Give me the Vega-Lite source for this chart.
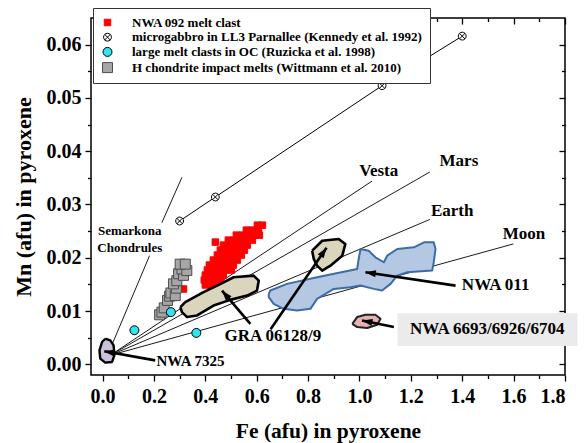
{
 "$schema": "https://vega.github.io/schema/vega-lite/v6.json",
 "width": 474, "height": 357,
 "autosize": {"type": "none"},
 "padding": {"left": 91, "top": 18, "right": 22, "bottom": 68},
 "background": "white",
 "config": {
  "view": {"stroke": "#000", "strokeWidth": 1.5},
  "axis": {"grid": false, "domain": false, "tickColor": "#000", "tickWidth": 1.3, "labelFont": "Liberation Serif", "labelFontWeight": "bold", "labelFontSize": 20, "labelColor": "#000", "titleFont": "Liberation Serif", "titleFontWeight": "bold", "titleFontSize": 22, "titleColor": "#000"},
  "legend": {"labelFont": "Liberation Serif", "labelFontWeight": "bold", "labelFontSize": 13, "labelColor": "#000", "labelLimit": 500, "padding": 8, "rowPadding": 0.7, "labelOffset": 18, "strokeColor": "#333", "fillColor": "#fff", "symbolStrokeWidth": 1}
 },
 "datasets": {
  "lines": [
   {"Fe": 0.03, "Mn": 0.0017, "Fe2": 1.049, "Mn2": 0.0344},
   {"Fe": 0.03, "Mn": 0.0017, "Fe2": 1.274, "Mn2": 0.0361},
   {"Fe": 0.03, "Mn": 0.0017, "Fe2": 1.274, "Mn2": 0.0272},
   {"Fe": 0.03, "Mn": 0.0017, "Fe2": 1.599, "Mn2": 0.0226},
   {"Fe": 0.309, "Mn": 0.0351, "Fe2": 0.231, "Mn2": 0.0266},
   {"Fe": 0.183, "Mn": 0.0204, "Fe2": 0.035, "Mn2": 0.0035}
  ],
  "pts": [
   {"series": "NWA 092 melt clast", "Fe": 0.315, "Mn": 0.01414},
   {"series": "NWA 092 melt clast", "Fe": 0.6027, "Mn": 0.02612},
   {"series": "NWA 092 melt clast", "Fe": 0.6222, "Mn": 0.02612},
   {"series": "NWA 092 melt clast", "Fe": 0.5598, "Mn": 0.02519},
   {"series": "NWA 092 melt clast", "Fe": 0.5832, "Mn": 0.02519},
   {"series": "NWA 092 melt clast", "Fe": 0.6066, "Mn": 0.02519},
   {"series": "NWA 092 melt clast", "Fe": 0.5208, "Mn": 0.02425},
   {"series": "NWA 092 melt clast", "Fe": 0.5442, "Mn": 0.02425},
   {"series": "NWA 092 melt clast", "Fe": 0.5676, "Mn": 0.02425},
   {"series": "NWA 092 melt clast", "Fe": 0.591, "Mn": 0.02425},
   {"series": "NWA 092 melt clast", "Fe": 0.6105, "Mn": 0.02425},
   {"series": "NWA 092 melt clast", "Fe": 0.4897, "Mn": 0.02331},
   {"series": "NWA 092 melt clast", "Fe": 0.5131, "Mn": 0.02331},
   {"series": "NWA 092 melt clast", "Fe": 0.5364, "Mn": 0.02331},
   {"series": "NWA 092 melt clast", "Fe": 0.5598, "Mn": 0.02331},
   {"series": "NWA 092 melt clast", "Fe": 0.5832, "Mn": 0.02331},
   {"series": "NWA 092 melt clast", "Fe": 0.439, "Mn": 0.02294},
   {"series": "NWA 092 melt clast", "Fe": 0.4702, "Mn": 0.02238},
   {"series": "NWA 092 melt clast", "Fe": 0.4936, "Mn": 0.02238},
   {"series": "NWA 092 melt clast", "Fe": 0.517, "Mn": 0.02238},
   {"series": "NWA 092 melt clast", "Fe": 0.5403, "Mn": 0.02238},
   {"series": "NWA 092 melt clast", "Fe": 0.5637, "Mn": 0.02238},
   {"series": "NWA 092 melt clast", "Fe": 0.4585, "Mn": 0.02144},
   {"series": "NWA 092 melt clast", "Fe": 0.4819, "Mn": 0.02144},
   {"series": "NWA 092 melt clast", "Fe": 0.5053, "Mn": 0.02144},
   {"series": "NWA 092 melt clast", "Fe": 0.5286, "Mn": 0.02144},
   {"series": "NWA 092 melt clast", "Fe": 0.552, "Mn": 0.02144},
   {"series": "NWA 092 melt clast", "Fe": 0.4468, "Mn": 0.02051},
   {"series": "NWA 092 melt clast", "Fe": 0.4702, "Mn": 0.02051},
   {"series": "NWA 092 melt clast", "Fe": 0.4936, "Mn": 0.02051},
   {"series": "NWA 092 melt clast", "Fe": 0.517, "Mn": 0.02051},
   {"series": "NWA 092 melt clast", "Fe": 0.5403, "Mn": 0.02051},
   {"series": "NWA 092 melt clast", "Fe": 0.4312, "Mn": 0.01957},
   {"series": "NWA 092 melt clast", "Fe": 0.4546, "Mn": 0.01957},
   {"series": "NWA 092 melt clast", "Fe": 0.478, "Mn": 0.01957},
   {"series": "NWA 092 melt clast", "Fe": 0.5014, "Mn": 0.01957},
   {"series": "NWA 092 melt clast", "Fe": 0.5247, "Mn": 0.01957},
   {"series": "NWA 092 melt clast", "Fe": 0.4157, "Mn": 0.01863},
   {"series": "NWA 092 melt clast", "Fe": 0.439, "Mn": 0.01863},
   {"series": "NWA 092 melt clast", "Fe": 0.4624, "Mn": 0.01863},
   {"series": "NWA 092 melt clast", "Fe": 0.4858, "Mn": 0.01863},
   {"series": "NWA 092 melt clast", "Fe": 0.5092, "Mn": 0.01863},
   {"series": "NWA 092 melt clast", "Fe": 0.408, "Mn": 0.0177},
   {"series": "NWA 092 melt clast", "Fe": 0.4312, "Mn": 0.0177},
   {"series": "NWA 092 melt clast", "Fe": 0.4546, "Mn": 0.0177},
   {"series": "NWA 092 melt clast", "Fe": 0.478, "Mn": 0.0177},
   {"series": "NWA 092 melt clast", "Fe": 0.5014, "Mn": 0.0177},
   {"series": "NWA 092 melt clast", "Fe": 0.4, "Mn": 0.01676},
   {"series": "NWA 092 melt clast", "Fe": 0.4234, "Mn": 0.01676},
   {"series": "NWA 092 melt clast", "Fe": 0.4468, "Mn": 0.01676},
   {"series": "NWA 092 melt clast", "Fe": 0.4702, "Mn": 0.01676},
   {"series": "NWA 092 melt clast", "Fe": 0.396, "Mn": 0.01582},
   {"series": "NWA 092 melt clast", "Fe": 0.4195, "Mn": 0.01582},
   {"series": "NWA 092 melt clast", "Fe": 0.4429, "Mn": 0.01582},
   {"series": "NWA 092 melt clast", "Fe": 0.4585, "Mn": 0.01582},
   {"series": "NWA 092 melt clast", "Fe": 0.4, "Mn": 0.01489},
   {"series": "NWA 092 melt clast", "Fe": 0.4234, "Mn": 0.01489},
   {"series": "NWA 092 melt clast", "Fe": 0.4468, "Mn": 0.01489},
   {"series": "H chondrite impact melts (Wittmann et al. 2010)", "Fe": 0.222, "Mn": 0.0093},
   {"series": "H chondrite impact melts (Wittmann et al. 2010)", "Fe": 0.231, "Mn": 0.0098},
   {"series": "H chondrite impact melts (Wittmann et al. 2010)", "Fe": 0.24, "Mn": 0.0106},
   {"series": "H chondrite impact melts (Wittmann et al. 2010)", "Fe": 0.253, "Mn": 0.012},
   {"series": "H chondrite impact melts (Wittmann et al. 2010)", "Fe": 0.261, "Mn": 0.0128},
   {"series": "H chondrite impact melts (Wittmann et al. 2010)", "Fe": 0.266, "Mn": 0.0134},
   {"series": "H chondrite impact melts (Wittmann et al. 2010)", "Fe": 0.283, "Mn": 0.0129},
   {"series": "H chondrite impact melts (Wittmann et al. 2010)", "Fe": 0.287, "Mn": 0.0143},
   {"series": "H chondrite impact melts (Wittmann et al. 2010)", "Fe": 0.276, "Mn": 0.0151},
   {"series": "H chondrite impact melts (Wittmann et al. 2010)", "Fe": 0.289, "Mn": 0.0157},
   {"series": "H chondrite impact melts (Wittmann et al. 2010)", "Fe": 0.296, "Mn": 0.017},
   {"series": "H chondrite impact melts (Wittmann et al. 2010)", "Fe": 0.315, "Mn": 0.0167},
   {"series": "H chondrite impact melts (Wittmann et al. 2010)", "Fe": 0.309, "Mn": 0.0179},
   {"series": "H chondrite impact melts (Wittmann et al. 2010)", "Fe": 0.328, "Mn": 0.0176},
   {"series": "H chondrite impact melts (Wittmann et al. 2010)", "Fe": 0.302, "Mn": 0.0188},
   {"series": "H chondrite impact melts (Wittmann et al. 2010)", "Fe": 0.322, "Mn": 0.0188},
   {"series": "large melt clasts in OC (Ruzicka et al. 1998)", "Fe": 0.124, "Mn": 0.0064},
   {"series": "large melt clasts in OC (Ruzicka et al. 1998)", "Fe": 0.266, "Mn": 0.0098},
   {"series": "large melt clasts in OC (Ruzicka et al. 1998)", "Fe": 0.365, "Mn": 0.0059},
   {"series": "microgabbro in LL3 Parnallee (Kennedy et al. 1992)", "Fe": 0.3, "Mn": 0.0269},
   {"series": "microgabbro in LL3 Parnallee (Kennedy et al. 1992)", "Fe": 0.439, "Mn": 0.0314},
   {"series": "microgabbro in LL3 Parnallee (Kennedy et al. 1992)", "Fe": 1.088, "Mn": 0.0523},
   {"series": "microgabbro in LL3 Parnallee (Kennedy et al. 1992)", "Fe": 1.4, "Mn": 0.0616}
  ],
  "polys": [
   {"poly": "GRA a", "i": 1, "Fe": 0.303, "Mn": 0.01074},
   {"poly": "GRA a", "i": 2, "Fe": 0.322, "Mn": 0.01167},
   {"poly": "GRA a", "i": 3, "Fe": 0.393, "Mn": 0.01355},
   {"poly": "GRA a", "i": 4, "Fe": 0.446, "Mn": 0.01478},
   {"poly": "GRA a", "i": 5, "Fe": 0.51, "Mn": 0.01635},
   {"poly": "GRA a", "i": 6, "Fe": 0.588, "Mn": 0.01665},
   {"poly": "GRA a", "i": 7, "Fe": 0.608, "Mn": 0.01572},
   {"poly": "GRA a", "i": 8, "Fe": 0.601, "Mn": 0.01384},
   {"poly": "GRA a", "i": 9, "Fe": 0.563, "Mn": 0.01291},
   {"poly": "GRA a", "i": 10, "Fe": 0.497, "Mn": 0.0121},
   {"poly": "GRA a", "i": 11, "Fe": 0.432, "Mn": 0.01104},
   {"poly": "GRA a", "i": 12, "Fe": 0.368, "Mn": 0.00917},
   {"poly": "GRA a", "i": 13, "Fe": 0.329, "Mn": 0.00887},
   {"poly": "GRA a", "i": 14, "Fe": 0.309, "Mn": 0.0098},
   {"poly": "GRA a", "i": 15, "Fe": 0.303, "Mn": 0.01074},
   {"poly": "GRA b", "i": 1, "Fe": 0.816, "Mn": 0.02133},
   {"poly": "GRA b", "i": 2, "Fe": 0.855, "Mn": 0.0232},
   {"poly": "GRA b", "i": 3, "Fe": 0.919, "Mn": 0.02352},
   {"poly": "GRA b", "i": 4, "Fe": 0.945, "Mn": 0.02258},
   {"poly": "GRA b", "i": 5, "Fe": 0.933, "Mn": 0.02039},
   {"poly": "GRA b", "i": 6, "Fe": 0.887, "Mn": 0.01852},
   {"poly": "GRA b", "i": 7, "Fe": 0.855, "Mn": 0.01759},
   {"poly": "GRA b", "i": 8, "Fe": 0.835, "Mn": 0.01852},
   {"poly": "GRA b", "i": 9, "Fe": 0.822, "Mn": 0.01978},
   {"poly": "GRA b", "i": 10, "Fe": 0.816, "Mn": 0.02133},
   {"poly": "NWA 011", "i": 1, "Fe": 0.647, "Mn": 0.01323},
   {"poly": "NWA 011", "i": 2, "Fe": 0.653, "Mn": 0.01385},
   {"poly": "NWA 011", "i": 3, "Fe": 0.718, "Mn": 0.0151},
   {"poly": "NWA 011", "i": 4, "Fe": 0.835, "Mn": 0.01635},
   {"poly": "NWA 011", "i": 5, "Fe": 0.991, "Mn": 0.0179},
   {"poly": "NWA 011", "i": 6, "Fe": 0.997, "Mn": 0.01978},
   {"poly": "NWA 011", "i": 7, "Fe": 1.004, "Mn": 0.02165},
   {"poly": "NWA 011", "i": 8, "Fe": 1.036, "Mn": 0.02133},
   {"poly": "NWA 011", "i": 9, "Fe": 1.062, "Mn": 0.02009},
   {"poly": "NWA 011", "i": 10, "Fe": 1.095, "Mn": 0.01916},
   {"poly": "NWA 011", "i": 11, "Fe": 1.108, "Mn": 0.02039},
   {"poly": "NWA 011", "i": 12, "Fe": 1.147, "Mn": 0.02165},
   {"poly": "NWA 011", "i": 13, "Fe": 1.212, "Mn": 0.02196},
   {"poly": "NWA 011", "i": 14, "Fe": 1.251, "Mn": 0.0229},
   {"poly": "NWA 011", "i": 15, "Fe": 1.289, "Mn": 0.0229},
   {"poly": "NWA 011", "i": 16, "Fe": 1.296, "Mn": 0.02165},
   {"poly": "NWA 011", "i": 17, "Fe": 1.289, "Mn": 0.01916},
   {"poly": "NWA 011", "i": 18, "Fe": 1.283, "Mn": 0.01759},
   {"poly": "NWA 011", "i": 19, "Fe": 1.186, "Mn": 0.01729},
   {"poly": "NWA 011", "i": 20, "Fe": 1.147, "Mn": 0.01665},
   {"poly": "NWA 011", "i": 21, "Fe": 1.121, "Mn": 0.0151},
   {"poly": "NWA 011", "i": 22, "Fe": 1.088, "Mn": 0.01385},
   {"poly": "NWA 011", "i": 23, "Fe": 1.056, "Mn": 0.01416},
   {"poly": "NWA 011", "i": 24, "Fe": 1.004, "Mn": 0.01478},
   {"poly": "NWA 011", "i": 25, "Fe": 0.965, "Mn": 0.01448},
   {"poly": "NWA 011", "i": 26, "Fe": 0.9, "Mn": 0.01416},
   {"poly": "NWA 011", "i": 27, "Fe": 0.835, "Mn": 0.01229},
   {"poly": "NWA 011", "i": 28, "Fe": 0.809, "Mn": 0.01042},
   {"poly": "NWA 011", "i": 29, "Fe": 0.757, "Mn": 0.0101},
   {"poly": "NWA 011", "i": 30, "Fe": 0.705, "Mn": 0.01042},
   {"poly": "NWA 011", "i": 31, "Fe": 0.666, "Mn": 0.01136},
   {"poly": "NWA 011", "i": 32, "Fe": 0.647, "Mn": 0.01261},
   {"poly": "NWA 011", "i": 33, "Fe": 0.647, "Mn": 0.01323},
   {"poly": "NWA 6693", "i": 1, "Fe": 0.972, "Mn": 0.00761},
   {"poly": "NWA 6693", "i": 2, "Fe": 0.991, "Mn": 0.00887},
   {"poly": "NWA 6693", "i": 3, "Fe": 1.023, "Mn": 0.0093},
   {"poly": "NWA 6693", "i": 4, "Fe": 1.062, "Mn": 0.0093},
   {"poly": "NWA 6693", "i": 5, "Fe": 1.082, "Mn": 0.00855},
   {"poly": "NWA 6693", "i": 6, "Fe": 1.069, "Mn": 0.00743},
   {"poly": "NWA 6693", "i": 7, "Fe": 1.03, "Mn": 0.00681},
   {"poly": "NWA 6693", "i": 8, "Fe": 0.991, "Mn": 0.007},
   {"poly": "NWA 6693", "i": 9, "Fe": 0.972, "Mn": 0.00761},
   {"poly": "NWA 7325", "i": 1, "Fe": 0.0105, "Mn": 0.00481},
   {"poly": "NWA 7325", "i": 2, "Fe": 0.03, "Mn": 0.00449},
   {"poly": "NWA 7325", "i": 3, "Fe": 0.043, "Mn": 0.00355},
   {"poly": "NWA 7325", "i": 4, "Fe": 0.046, "Mn": 0.00168},
   {"poly": "NWA 7325", "i": 5, "Fe": 0.037, "Mn": 0.00045},
   {"poly": "NWA 7325", "i": 6, "Fe": 0.0105, "Mn": 0.00032},
   {"poly": "NWA 7325", "i": 7, "Fe": -0.009, "Mn": 0.00107},
   {"poly": "NWA 7325", "i": 8, "Fe": -0.012, "Mn": 0.00262},
   {"poly": "NWA 7325", "i": 9, "Fe": -0.002, "Mn": 0.00419},
   {"poly": "NWA 7325", "i": 10, "Fe": 0.0105, "Mn": 0.00481}
  ],
  "arrows": [
   {"Fe": 0.0066, "Mn": 0.00247, "Fe0": 0.205, "Mn0": 0.00075},
   {"Fe": 0.465, "Mn": 0.01382, "Fe0": 0.5753, "Mn0": 0.00758},
   {"Fe": 0.872, "Mn": 0.0219, "Fe0": 0.654, "Mn0": 0.0066},
   {"Fe": 1.023, "Mn": 0.01729, "Fe0": 1.374, "Mn0": 0.01478},
   {"Fe": 1.01, "Mn": 0.00823, "Fe0": 1.134, "Mn0": 0.007}
  ],
  "box": [{"Fe": 1.148, "Mn": 0.00964, "Fe2": 1.849, "Mn2": 0.00346}],
  "labels": [
   {"size": "big", "label": "Vesta", "Fe": 1.075, "Mn": 0.0363},
   {"size": "big", "label": "Mars", "Fe": 1.387, "Mn": 0.0382},
   {"size": "big", "label": "Earth", "Fe": 1.361, "Mn": 0.0288},
   {"size": "big", "label": "Moon", "Fe": 1.64, "Mn": 0.0245},
   {"size": "big", "label": "GRA 06128/9", "Fe": 0.663, "Mn": 0.00528},
   {"size": "big", "label": "NWA 011", "Fe": 1.53, "Mn": 0.0148},
   {"size": "big", "label": "NWA 6693/6926/6704", "Fe": 1.4975, "Mn": 0.00655},
   {"size": "mid", "label": "NWA 7325", "Fe": 0.342, "Mn": 0.0007},
   {"size": "small", "label": "Semarkona", "Fe": 0.106, "Mn": 0.02506},
   {"size": "small", "label": "Chondrules", "Fe": 0.106, "Mn": 0.02176}
  ]
 },
 "encoding": {
  "x": {"field": "Fe", "type": "quantitative", "scale": {"domain": [-0.045, 1.8], "nice": false, "zero": false}, "axis": null},
  "y": {"field": "Mn", "type": "quantitative", "scale": {"domain": [-0.002, 0.065], "nice": false, "zero": false}, "axis": null}
 },
 "resolve": {"axis": {"x": "independent", "y": "independent"}},
 "layer": [
  {
   "data": {"name": "lines"},
   "mark": {"type": "rule", "color": "#000", "strokeWidth": 0.9},
   "encoding": {
    "x": {"field": "Fe", "type": "quantitative", "scale": {"domain": [-0.045, 1.8], "nice": false, "zero": false},
          "axis": {"orient": "bottom", "values": [0, 0.2, 0.4, 0.6, 0.8, 1.0, 1.2, 1.4, 1.6, 1.8], "format": ".1f", "tickSize": 6, "labelPadding": 5, "title": "Fe (afu) in pyroxene", "titlePadding": 14, "titleFontSize": 21.5}},
    "y": {"field": "Mn", "type": "quantitative", "scale": {"domain": [-0.002, 0.065], "nice": false, "zero": false},
          "axis": {"orient": "left", "values": [0, 0.01, 0.02, 0.03, 0.04, 0.05, 0.06], "format": ".2f", "tickSize": 6, "labelPadding": 4, "title": "Mn (afu) in pyroxene", "titlePadding": 11}},
    "x2": {"field": "Fe2"},
    "y2": {"field": "Mn2"}
   }
  },
  {
   "data": {"name": "pts"},
   "transform": [{"filter": "datum.series == 'microgabbro in LL3 Parnallee (Kennedy et al. 1992)'"}],
   "mark": {"type": "line", "color": "#000", "strokeWidth": 1},
   "encoding": {
    "x": {"field": "Fe", "type": "quantitative", "scale": {"domain": [-0.045, 1.8], "nice": false, "zero": false},
          "axis": {"orient": "bottom", "values": [0.1, 0.3, 0.5, 0.7, 0.9, 1.1, 1.3, 1.5, 1.7], "labels": false, "tickSize": 3.5, "title": null}},
    "y": {"field": "Mn", "type": "quantitative", "scale": {"domain": [-0.002, 0.065], "nice": false, "zero": false},
          "axis": {"orient": "left", "values": [0.005, 0.015, 0.025, 0.035, 0.045, 0.055], "labels": false, "tickSize": 3.5, "title": null}},
    "order": {"field": "Fe", "type": "quantitative"}
   }
  },
  {
   "data": {"name": "pts"},
   "transform": [{"filter": "datum.series == 'NWA 092 melt clast'"}],
   "mark": {"type": "point", "opacity": 1, "strokeWidth": 1},
   "encoding": {
    "shape": {"field": "series", "type": "nominal", "scale": {"domain": ["NWA 092 melt clast", "microgabbro in LL3 Parnallee (Kennedy et al. 1992)", "large melt clasts in OC (Ruzicka et al. 1998)", "H chondrite impact melts (Wittmann et al. 2010)"], "range": ["square", "M-1,0A1,1,0,1,0,1,0A1,1,0,1,0,-1,0ZM-0.707,-0.707L0.707,0.707M-0.707,0.707L0.707,-0.707", "circle", "square"]},
              "legend": {"title": null, "orient": "none", "legendX": 2, "legendY": -10}},
    "fill": {"field": "series", "type": "nominal", "scale": {"domain": ["NWA 092 melt clast", "microgabbro in LL3 Parnallee (Kennedy et al. 1992)", "large melt clasts in OC (Ruzicka et al. 1998)", "H chondrite impact melts (Wittmann et al. 2010)"], "range": ["#ff0000", "#ffffff", "#30e4f0", "#a6a6a6"]}},
    "stroke": {"field": "series", "type": "nominal", "scale": {"domain": ["NWA 092 melt clast", "microgabbro in LL3 Parnallee (Kennedy et al. 1992)", "large melt clasts in OC (Ruzicka et al. 1998)", "H chondrite impact melts (Wittmann et al. 2010)"], "range": ["#ff0000", "#000000", "#000000", "#4d4d4d"]}},
    "size": {"field": "series", "type": "nominal", "scale": {"domain": ["NWA 092 melt clast", "microgabbro in LL3 Parnallee (Kennedy et al. 1992)", "large melt clasts in OC (Ruzicka et al. 1998)", "H chondrite impact melts (Wittmann et al. 2010)"], "range": [42, 100, 90, 70]}}
   }
  },
  {
   "data": {"name": "polys"},
   "transform": [{"filter": "datum.poly == 'GRA a' || datum.poly == 'GRA b'"}],
   "mark": {"type": "line", "fill": "#dbd5bd", "stroke": "#000", "strokeWidth": 2.6, "strokeJoin": "round"},
   "encoding": {
    "x": {"field": "Fe", "type": "quantitative", "scale": {"domain": [-0.045, 1.8], "nice": false, "zero": false},
          "axis": {"orient": "top", "values": [0, 0.2, 0.4, 0.6, 0.8, 1.0, 1.2, 1.4, 1.6, 1.8], "labels": false, "tickSize": -6, "title": null}},
    "y": {"field": "Mn", "type": "quantitative", "scale": {"domain": [-0.002, 0.065], "nice": false, "zero": false},
          "axis": {"orient": "right", "values": [0, 0.01, 0.02, 0.03, 0.04, 0.05, 0.06], "labels": false, "tickSize": -6, "title": null}},
    "detail": {"field": "poly"},
    "order": {"field": "i", "type": "quantitative"}
   }
  },
  {
   "data": {"name": "polys"},
   "transform": [{"filter": "datum.poly == 'NWA 011'"}],
   "mark": {"type": "line", "fill": "#b4c7e3", "stroke": "#3d6da6", "strokeWidth": 2, "strokeJoin": "round"},
   "encoding": {
    "x": {"field": "Fe", "type": "quantitative", "scale": {"domain": [-0.045, 1.8], "nice": false, "zero": false},
          "axis": {"orient": "top", "values": [0.1, 0.3, 0.5, 0.7, 0.9, 1.1, 1.3, 1.5, 1.7], "labels": false, "tickSize": -3.5, "title": null}},
    "y": {"field": "Mn", "type": "quantitative", "scale": {"domain": [-0.002, 0.065], "nice": false, "zero": false},
          "axis": {"orient": "right", "values": [0.005, 0.015, 0.025, 0.035, 0.045, 0.055], "labels": false, "tickSize": -3.5, "title": null}},
    "order": {"field": "i", "type": "quantitative"}
   }
  },
  {
   "data": {"name": "polys"},
   "transform": [{"filter": "datum.poly == 'NWA 6693'"}],
   "mark": {"type": "line", "fill": "#e6b3b3", "stroke": "#222", "strokeWidth": 2, "strokeJoin": "round"},
   "encoding": {"order": {"field": "i", "type": "quantitative"}}
  },
  {
   "data": {"name": "polys"},
   "transform": [{"filter": "datum.poly == 'NWA 7325'"}],
   "mark": {"type": "line", "fill": "#cbbfdc", "stroke": "#000", "strokeWidth": 2.4, "strokeJoin": "round"},
   "encoding": {"order": {"field": "i", "type": "quantitative"}}
  },
  {
   "data": {"name": "pts"},
   "transform": [{"filter": "datum.series != 'NWA 092 melt clast'"}],
   "mark": {"type": "point", "opacity": 1, "strokeWidth": 1},
   "encoding": {
    "shape": {"field": "series", "type": "nominal", "scale": {"domain": ["NWA 092 melt clast", "microgabbro in LL3 Parnallee (Kennedy et al. 1992)", "large melt clasts in OC (Ruzicka et al. 1998)", "H chondrite impact melts (Wittmann et al. 2010)"], "range": ["square", "M-1,0A1,1,0,1,0,1,0A1,1,0,1,0,-1,0ZM-0.707,-0.707L0.707,0.707M-0.707,0.707L0.707,-0.707", "circle", "square"]}},
    "fill": {"field": "series", "type": "nominal", "scale": {"domain": ["NWA 092 melt clast", "microgabbro in LL3 Parnallee (Kennedy et al. 1992)", "large melt clasts in OC (Ruzicka et al. 1998)", "H chondrite impact melts (Wittmann et al. 2010)"], "range": ["#ff0000", "#ffffff", "#30e4f0", "#a6a6a6"]}},
    "stroke": {"field": "series", "type": "nominal", "scale": {"domain": ["NWA 092 melt clast", "microgabbro in LL3 Parnallee (Kennedy et al. 1992)", "large melt clasts in OC (Ruzicka et al. 1998)", "H chondrite impact melts (Wittmann et al. 2010)"], "range": ["#ff0000", "#000000", "#000000", "#4d4d4d"]}},
    "size": {"field": "series", "type": "nominal", "scale": {"domain": ["NWA 092 melt clast", "microgabbro in LL3 Parnallee (Kennedy et al. 1992)", "large melt clasts in OC (Ruzicka et al. 1998)", "H chondrite impact melts (Wittmann et al. 2010)"], "range": [42, 100, 90, 70]}}
   }
  },
  {
   "data": {"name": "arrows"},
   "mark": {"type": "rule", "color": "#000", "strokeWidth": 2.6},
   "encoding": {"x2": {"field": "Fe0"}, "y2": {"field": "Mn0"}}
  },
  {
   "data": {"name": "arrows"},
   "mark": {"type": "point", "shape": "M0,0L-0.55,1.6L0.55,1.6Z", "size": 170, "filled": true, "color": "#000", "opacity": 1,
            "angle": {"expr": "atan2(scale('x', datum.Fe) - scale('x', datum.Fe0), scale('y', datum.Mn0) - scale('y', datum.Mn)) * 180 / PI"}}
  },
  {
   "data": {"name": "box"},
   "mark": {"type": "rect", "color": "#ebebeb"},
   "encoding": {"x2": {"field": "Fe2"}, "y2": {"field": "Mn2"}}
  },
  {
   "data": {"name": "labels"},
   "transform": [{"filter": "datum.size == 'big'"}],
   "mark": {"type": "text", "font": "Liberation Serif", "fontWeight": "bold", "fontSize": 17, "color": "#000", "align": "center", "baseline": "middle"},
   "encoding": {"text": {"field": "label"}}
  },
  {
   "data": {"name": "labels"},
   "transform": [{"filter": "datum.size == 'mid'"}],
   "mark": {"type": "text", "font": "Liberation Serif", "fontWeight": "bold", "fontSize": 15, "color": "#000", "align": "center", "baseline": "middle"},
   "encoding": {"text": {"field": "label"}}
  },
  {
   "data": {"name": "labels"},
   "transform": [{"filter": "datum.size == 'small'"}],
   "mark": {"type": "text", "font": "Liberation Serif", "fontWeight": "bold", "fontSize": 13, "color": "#000", "align": "center", "baseline": "middle"},
   "encoding": {"text": {"field": "label"}}
  }
 ]
}
